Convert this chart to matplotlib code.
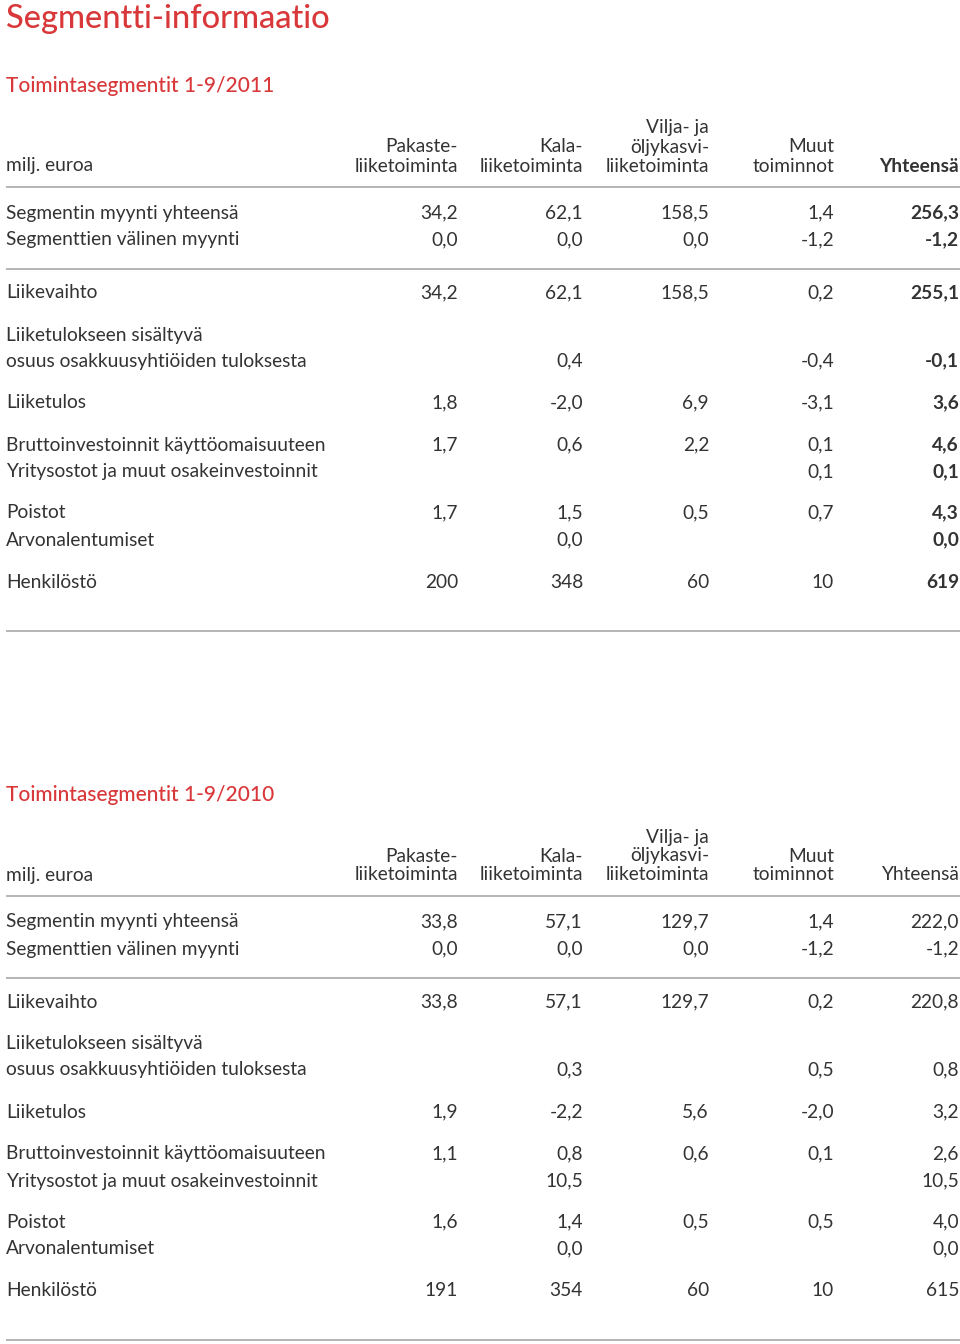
import matplotlib.pyplot as plt

RED = '#d9383a'
TXT = '#333333'
LINE = '#b4b4b4'
FONT = ['Lato', 'DejaVu Sans']

PAGE_TITLE = 'Segmentti-informaatio'
TITLES = ['Toimintasegmentit 1-9/2011', 'Toimintasegmentit 1-9/2010']
UNIT = 'milj. euroa'
COLUMNS = [['Pakaste-', 'liiketoiminta'],
           ['Kala-', 'liiketoiminta'],
           ['Vilja- ja', 'öljykasvi-', 'liiketoiminta'],
           ['Muut', 'toiminnot'],
           ['Yhteensä']]

ROW_LABELS = [['Segmentin myynti yhteensä'],
              ['Segmenttien välinen myynti'],
              ['Liikevaihto'],
              ['Liiketulokseen sisältyvä', 'osuus osakkuusyhtiöiden tuloksesta'],
              ['Liiketulos'],
              ['Bruttoinvestoinnit käyttöomaisuuteen'],
              ['Yritysostot ja muut osakeinvestoinnit'],
              ['Poistot'],
              ['Arvonalentumiset'],
              ['Henkilöstö']]

VALUES_2011 = [['34,2', '62,1', '158,5', '1,4', '256,3'],
               ['0,0', '0,0', '0,0', '-1,2', '-1,2'],
               ['34,2', '62,1', '158,5', '0,2', '255,1'],
               ['', '0,4', '', '-0,4', '-0,1'],
               ['1,8', '-2,0', '6,9', '-3,1', '3,6'],
               ['1,7', '0,6', '2,2', '0,1', '4,6'],
               ['', '', '', '0,1', '0,1'],
               ['1,7', '1,5', '0,5', '0,7', '4,3'],
               ['', '0,0', '', '', '0,0'],
               ['200', '348', '60', '10', '619']]

VALUES_2010 = [['33,8', '57,1', '129,7', '1,4', '222,0'],
               ['0,0', '0,0', '0,0', '-1,2', '-1,2'],
               ['33,8', '57,1', '129,7', '0,2', '220,8'],
               ['', '0,3', '', '0,5', '0,8'],
               ['1,9', '-2,2', '5,6', '-2,0', '3,2'],
               ['1,1', '0,8', '0,6', '0,1', '2,6'],
               ['', '10,5', '', '', '10,5'],
               ['1,6', '1,4', '0,5', '0,5', '4,0'],
               ['', '0,0', '', '', '0,0'],
               ['191', '354', '60', '10', '615']]

# layout (pixels from top)
COL_X = [458, 583, 709, 834, 959]
ROW_Y = [213, 240, 293, 348, 403, 445, 472, 513, 540, 582]
FS = 13.8


def draw_table(ax, top, title, values, bold_total):
    ax.text(6, top + 86, title, color=RED, fontsize=15, family=FONT,
            ha='left', va='center', fontweight='medium')
    ax.text(6, top + 166, UNIT, color=TXT, fontsize=FS, family=FONT,
            ha='left', va='center')
    for x, head in zip(COL_X, COLUMNS):
        n = len(head)
        for k, line in enumerate(head):
            y = top + 166 - (n - 1 - k) * 19
            w = 'bold' if (bold_total and line == 'Yhteensä') else 'normal'
            ax.text(x, y, line, color=TXT, fontsize=FS, family=FONT,
                    ha='right', va='center', fontweight=w)
    for y in [top + 187, top + 269, top + 631]:
        ax.plot([6, 960], [y, y], color=LINE, lw=1.4, solid_capstyle='butt')
    for ry, lab, vals in zip(ROW_Y, ROW_LABELS, values):
        if len(lab) == 2:
            ax.text(6, top + ry - 13, lab[0], color=TXT, fontsize=FS, family=FONT,
                    ha='left', va='center')
            ax.text(6, top + ry + 13, lab[1], color=TXT, fontsize=FS, family=FONT,
                    ha='left', va='center')
            vy = top + ry + 13
        else:
            ax.text(6, top + ry, lab[0], color=TXT, fontsize=FS, family=FONT,
                    ha='left', va='center')
            vy = top + ry
        for j, (x, v) in enumerate(zip(COL_X, vals)):
            w = 'bold' if (bold_total and j == 4) else 'normal'
            ax.text(x, vy, v, color=TXT, fontsize=FS, family=FONT,
                    ha='right', va='center', fontweight=w)


fig = plt.figure(figsize=(9.6, 13.44), dpi=100)
ax = fig.add_axes([0, 0, 1, 1])
ax.set_xlim(0, 960)
ax.set_ylim(1344, 0)
ax.axis('off')

ax.text(6, 19, PAGE_TITLE, color=RED, fontsize=23.5, family=FONT,
        ha='left', va='center', fontweight='medium')
draw_table(ax, 0, TITLES[0], VALUES_2011, True)
draw_table(ax, 709, TITLES[1], VALUES_2010, False)

fig.savefig('out.png', dpi=100)
